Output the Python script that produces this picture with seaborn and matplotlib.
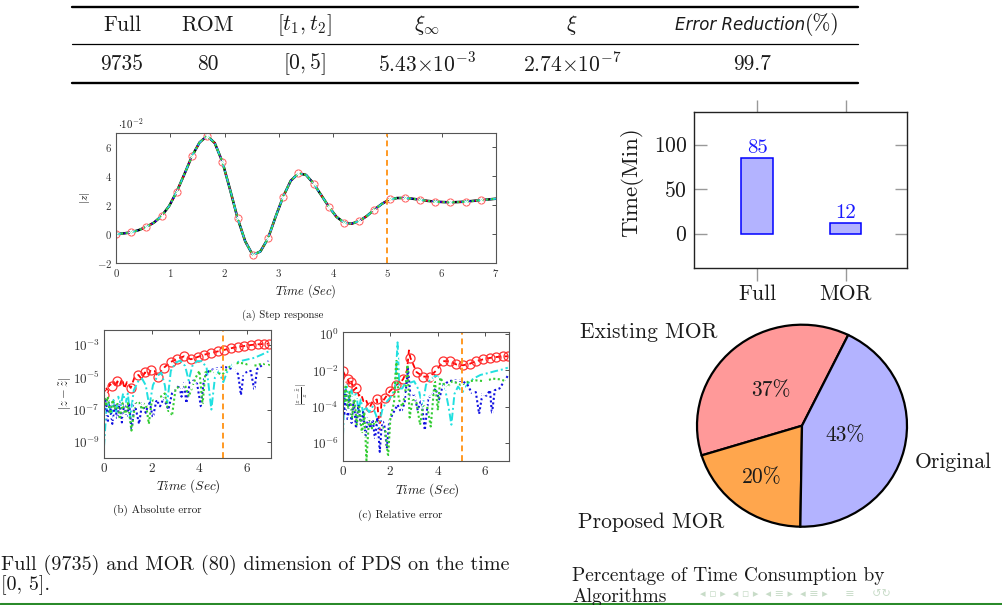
import numpy as np
import pandas as pd
import matplotlib
matplotlib.use("Agg")
import matplotlib.pyplot as plt
import seaborn as sns
from matplotlib.lines import Line2D
from matplotlib.ticker import FuncFormatter, NullLocator

# ---------------- data ----------------
table_header = ["Full", "ROM", r"$[t_1, t_2]$", r"$\xi_\infty$", r"$\xi$"]
table_row = ["9735", "80", r"$[0, 5]$", r"$5.43{\times}10^{-3}$", r"$2.74{\times}10^{-7}$", "99.7"]

step_t = [0.0, 0.14, 0.28, 0.42, 0.56, 0.70, 0.84, 0.98, 1.12, 1.26, 1.40, 1.54, 1.68, 1.82,
          1.96, 2.10, 2.24, 2.38, 2.52, 2.66, 2.80, 2.94, 3.08, 3.22, 3.36, 3.50, 3.64, 3.78,
          3.92, 4.06, 4.20, 4.34, 4.48, 4.62, 4.76, 4.90, 5.04, 5.18, 5.32, 5.46, 5.60, 5.74,
          5.88, 6.02, 6.16, 6.30, 6.44, 6.58, 6.72, 6.86, 7.00]
step_z = [0.0, 0.0005, 0.0012, 0.0028, 0.005, 0.008, 0.0125, 0.0195, 0.0295, 0.0415, 0.054,
          0.0635, 0.068, 0.063, 0.050, 0.031, 0.011, -0.005, -0.0145, -0.012, -0.003, 0.012,
          0.026, 0.037, 0.042, 0.041, 0.035, 0.027, 0.019, 0.012, 0.008, 0.0072, 0.009, 0.0125,
          0.017, 0.021, 0.024, 0.025, 0.025, 0.0245, 0.0238, 0.023, 0.0225, 0.0222, 0.022,
          0.0222, 0.0225, 0.023, 0.0235, 0.024, 0.0245]

# absolute error |z - z~|
abs_red_t = [0.00, 0.08, 0.16, 0.24, 0.32, 0.42, 0.50, 0.56, 0.66, 0.76, 0.86, 0.96, 1.12, 1.28,
             1.44, 1.58, 1.71, 1.84, 1.96, 2.12, 2.27, 2.40, 2.52, 2.80, 3.08, 3.36, 3.64, 3.92,
             4.20, 4.48, 4.76, 5.04, 5.32, 5.60, 5.88, 6.16, 6.44, 6.72, 6.90]
abs_red_v = [8e-7, 2.5e-6, 1.3e-6, 4e-6, 2.8e-6, 5e-6, 2.5e-6, 5.6e-6, 3.2e-6, 8e-6, 2e-6, 5e-6,
             2.2e-6, 1e-5, 1.4e-5, 8e-6, 2e-5, 1.3e-5, 2.8e-5, 2.5e-5, 1.1e-5, 2.5e-5, 4e-5, 9e-5,
             1.4e-4, 2e-4, 1.3e-4, 1.8e-4, 2.5e-4, 3.2e-4, 4e-4, 5e-4, 6.3e-4, 7.6e-4, 8.7e-4,
             1e-3, 1.1e-3, 1.17e-3, 1.2e-3]
abs_cyan_t = [0.00, 0.10, 0.20, 0.30, 0.40, 0.50, 0.60, 0.70, 0.80, 0.90, 1.00, 1.10, 1.25, 1.45,
              1.60, 1.75, 1.90, 2.05, 2.25, 2.40, 2.55, 2.65, 2.80, 3.00, 3.20, 3.40, 3.55, 3.70,
              3.90, 4.10, 4.30, 4.50, 4.65, 4.80, 5.00, 5.15, 5.40, 5.70, 6.00, 6.30, 6.60, 6.90]
abs_cyan_v = [5e-10, 1e-7, 3.2e-7, 3.2e-8, 4e-7, 6.3e-8, 6.3e-7, 1.6e-7, 1e-6, 2.5e-7, 1e-6,
              3.2e-8, 1.6e-6, 6.3e-6, 8e-6, 3.2e-6, 1.6e-7, 3.2e-6, 1.3e-5, 2e-5, 3.2e-6, 2.5e-7,
              2.5e-5, 8e-5, 1.1e-4, 5e-5, 6.3e-6, 5e-5, 1e-4, 1e-4, 4e-5, 1e-7, 1e-5, 2.5e-5,
              5e-6, 2e-5, 6.3e-5, 1e-4, 1.26e-4, 1.6e-4, 2.5e-4, 4e-4]
abs_blue_t = [0.00, 0.08, 0.16, 0.24, 0.35, 0.45, 0.55, 0.65, 0.75, 0.85, 0.95, 1.05, 1.16, 1.28,
              1.47, 1.60, 1.75, 1.90, 2.05, 2.20, 2.35, 2.50, 2.70, 2.85, 3.00, 3.15, 3.25, 3.36,
              3.45, 3.60, 3.76, 3.90, 4.06, 4.20, 4.41, 4.60, 4.83, 5.10, 5.30, 5.46, 5.62, 5.74,
              5.85, 5.95, 6.15, 6.30, 6.42, 6.58, 6.75, 6.90]
abs_blue_v = [5e-8, 5e-7, 1.6e-8, 3.2e-7, 1.3e-8, 2.5e-7, 2.5e-8, 2.5e-7, 1.6e-8, 2.5e-7,
              3.2e-8, 2.5e-7, 5e-9, 2.5e-7, 1.3e-8, 2.5e-7, 6.3e-8, 3.2e-7, 3.2e-8, 4e-7,
              1.6e-7, 5e-7, 1e-7, 1e-6, 1.6e-6, 3.2e-6, 6.3e-7, 4.5e-6, 2.5e-7, 5e-6,
              6.3e-6, 4e-6, 1.6e-7, 1e-5, 2.5e-5, 3.2e-5, 3.8e-5, 4.2e-5, 3.5e-5, 2.8e-5,
              1.6e-5, 8e-7, 1.6e-5, 2e-5, 2.5e-5, 1.6e-6, 3.2e-5, 5e-5, 7e-5, 1e-4]
abs_green_t = [0.00, 0.08, 0.16, 0.26, 0.36, 0.46, 0.56, 0.66, 0.78, 0.90, 1.00, 1.15, 1.30, 1.45,
               1.60, 1.75, 1.88, 2.00, 2.20, 2.38, 2.55, 2.70, 2.85, 3.00, 3.22, 3.40, 3.55, 3.71,
               3.85, 4.00, 4.13, 4.25, 4.41, 4.65, 4.97, 5.15, 5.39, 5.67, 5.90, 6.10, 6.40, 6.60,
               6.80, 6.95]
abs_green_v = [1e-6, 1.6e-7, 6.3e-7, 4e-8, 4e-7, 1e-7, 3.2e-7, 2.5e-8, 2.5e-7, 4e-8,
               2.5e-7, 5e-9, 2e-7, 3.2e-7, 1e-7, 2.5e-7, 1.3e-8, 3.2e-7, 5e-7, 6.3e-7,
               1e-6, 6.3e-8, 4e-8, 2e-6, 2.8e-6, 3.2e-6, 6.3e-7, 2.8e-6, 1e-5, 2.5e-5,
               2e-7, 2e-5, 2.5e-5, 2e-5, 1.5e-5, 3.2e-5, 6.3e-5, 8e-5, 7e-5, 5.6e-5,
               5.4e-5, 7e-5, 6.3e-5, 5.6e-5]

# relative error |(z - z~)/z|
rel_red_t = [0.00, 0.10, 0.21, 0.28, 0.35, 0.45, 0.56, 0.66, 0.76, 0.86, 0.96, 1.05, 1.13, 1.25,
             1.43, 1.55, 1.62, 1.76, 1.97, 2.10, 2.25, 2.40, 2.53, 2.70, 2.78, 2.84, 3.10, 3.38,
             3.66, 3.94, 4.22, 4.50, 4.78, 5.06, 5.34, 5.62, 5.90, 6.18, 6.46, 6.74, 6.96]
rel_red_v = [8.9e-3, 5e-3, 3.2e-3, 1.6e-3, 2.4e-3, 8e-4, 1.1e-3, 4e-4, 5e-4, 2e-4,
             2.5e-4, 1.26e-4, 9e-5, 2e-4, 2.5e-4, 5e-6, 1.6e-4, 2.8e-4, 7e-4, 1e-3,
             1.6e-3, 2e-3, 3.2e-3, 1e-2, 0.126, 5e-2, 8e-3, 4.5e-3, 4.5e-3, 1e-2,
             3.2e-2, 3.2e-2, 2.1e-2, 1.9e-2, 2.3e-2, 3.2e-2, 4e-2, 4.8e-2, 5.4e-2, 5.8e-2, 6e-2]
rel_cyan_t = [0.00, 0.06, 0.15, 0.25, 0.35, 0.45, 0.55, 0.65, 0.75, 0.85, 0.95, 1.10, 1.25, 1.40,
              1.50, 1.65, 1.80, 2.00, 2.20, 2.30, 2.38, 2.50, 2.65, 2.80, 3.00, 3.20, 3.35, 3.50,
              3.70, 3.90, 4.10, 4.30, 4.45, 4.57, 4.70, 4.85, 5.04, 5.20, 5.50, 5.80, 6.10, 6.40,
              6.70, 6.95]
rel_cyan_v = [2.5e-6, 5e-4, 1.6e-3, 2.5e-4, 1e-3, 1.6e-4, 6.3e-4, 6.3e-5, 2.5e-4, 4e-5,
              1e-4, 5e-5, 1e-4, 3.2e-5, 6.3e-6, 6.3e-5, 1.6e-4, 3.2e-4, 1e-3, 0.35,
              1e-3, 1e-3, 2.5e-3, 2e-3, 2.5e-3, 8e-4, 1e-4, 1.6e-3, 3.2e-3, 5e-3,
              4e-3, 1e-3, 1e-4, 1e-5, 5e-4, 1.26e-3, 6.3e-4, 1.6e-3, 3.5e-3, 5.6e-3,
              7e-3, 8.9e-3, 1.1e-2, 1.4e-2]
rel_blue_t = [0.00, 0.06, 0.12, 0.20, 0.28, 0.36, 0.45, 0.55, 0.65, 0.75, 0.85, 0.95, 1.05, 1.15,
              1.25, 1.35, 1.45, 1.55, 1.65, 1.75, 1.85, 1.95, 2.10, 2.30, 2.45, 2.60, 2.74, 2.85,
              3.00, 3.15, 3.30, 3.45, 3.60, 3.75, 3.90, 4.05, 4.20, 4.35, 4.50, 4.80, 5.05, 5.25,
              5.45, 5.60, 5.74, 5.88, 6.05, 6.20, 6.28, 6.40, 6.60, 6.80, 6.95]
rel_blue_v = [1.6e-3, 3.2e-5, 1e-3, 1.6e-5, 4e-4, 1.26e-5, 2.5e-4, 6.3e-6, 1.26e-4, 1e-5,
              5e-5, 2.5e-6, 2.5e-5, 6.3e-6, 2e-5, 1.6e-6, 2.5e-5, 3.2e-7, 2e-5, 8e-6,
              5e-7, 1.6e-5, 4e-5, 1.26e-4, 5e-5, 1.6e-4, 1.26e-2, 3.2e-4, 5e-4, 6.3e-5,
              2.5e-4, 5e-6, 3.2e-4, 4e-4, 1e-3, 2.5e-4, 1.26e-3, 2e-3, 2.6e-3, 2.8e-3,
              2.5e-3, 1.6e-3, 5e-4, 6.3e-4, 4e-5, 5e-4, 4e-4, 8e-4, 4e-5, 8e-4,
              1e-3, 2.5e-3, 5e-3]
rel_green_t = [0.00, 0.06, 0.12, 0.20, 0.28, 0.38, 0.48, 0.58, 0.68, 0.80, 0.90, 0.99, 1.10, 1.22,
               1.35, 1.50, 1.65, 1.80, 1.90, 2.00, 2.15, 2.25, 2.35, 2.50, 2.62, 2.72, 2.81, 2.95,
               3.10, 3.25, 3.40, 3.55, 3.70, 3.87, 4.00, 4.10, 4.36, 4.60, 4.80, 5.05, 5.30, 5.60,
               6.00, 6.30, 6.60, 6.90]
rel_green_v = [2.5e-3, 1.6e-4, 1.26e-3, 6.3e-5, 6.3e-4, 2.5e-5, 3.2e-4, 1e-5, 1.26e-4, 3.2e-6,
               5e-5, 1.1e-7, 2.5e-5, 6.3e-6, 1.6e-5, 1e-5, 8e-6, 4e-6, 1.6e-7, 2.5e-5,
               1.6e-4, 5e-2, 2.5e-4, 1e-4, 5e-4, 2e-2, 2.5e-5, 3.2e-4, 1.6e-4, 1e-5,
               1.6e-4, 1e-4, 8e-6, 3.2e-3, 6.3e-5, 4e-3, 1e-3, 2.5e-3, 2e-3, 1.4e-3,
               2.5e-3, 2.8e-3, 2.5e-3, 3.5e-3, 3.2e-3, 2.5e-3]

bar_cats = ["Full", "MOR"]
bar_vals = [85, 12]

pie_labels = ["Existing MOR", "Proposed MOR", "Original"]
pie_vals = [37, 20, 43]
pie_colors = ["#ff9999", "#ffa64d", "#b3b3ff"]

# ---------------- style ----------------
sns.set_theme(style="white")
plt.rcParams['font.family'] = ['cmr10', 'DejaVu Serif']
plt.rcParams['mathtext.fontset'] = 'cm'
plt.rcParams['axes.unicode_minus'] = False
plt.rcParams['axes.formatter.use_mathtext'] = True

W, H = 1002, 605
fig = plt.figure(figsize=(W / 100, H / 100), dpi=100)
fig.patch.set_facecolor('white')


def box(x0, y0, x1, y1):
    return [x0 / W, 1 - y1 / H, (x1 - x0) / W, (y1 - y0) / H]


def ft(x, y, s, **kw):
    kw.setdefault('ha', 'center')
    kw.setdefault('va', 'center')
    kw.setdefault('color', '#1a1a1a')
    fig.text(x / W, 1 - y / H, s, **kw)


def hline(x0, x1, y, lw, color='black'):
    fig.add_artist(Line2D([x0 / W, x1 / W], [1 - y / H, 1 - y / H], lw=lw, color=color))


def frame(ax, color='#555555', lw=0.8):
    for s in ax.spines.values():
        s.set_visible(True)
        s.set_color(color)
        s.set_linewidth(lw)


# ---------------- table ----------------
hline(72, 858, 7, 1.7)
hline(72, 858, 44, 0.9)
hline(72, 858, 83, 1.7)
col_x = [122, 208, 304, 427, 572]
for x, s in zip(col_x, table_header):
    ft(x, 25, s, size=15.5)
ft(805, 25, "Error Reduction", family='DejaVu Sans', style='italic', size=12, ha='right')
ft(805, 25, "(%)", size=15.5, ha='left')
for x, s in zip(col_x + [752], table_row):
    ft(x, 64, s, size=15.5)

# ---------------- (a) step response ----------------
ax1 = fig.add_axes(box(116, 133, 496, 263))
sns.lineplot(x=step_t, y=step_z, ax=ax1, color='black', linewidth=1.8, estimator=None, sort=False)
sns.lineplot(x=step_t, y=step_z, ax=ax1, color='red', linestyle=(0, (3, 2)), linewidth=1.2,
             marker='o', markersize=5, markerfacecolor='none', markeredgecolor='#ff7070',
             markeredgewidth=0.9, markevery=slice(0, 50, 2), estimator=None, sort=False)
sns.lineplot(x=step_t, y=step_z, ax=ax1, color='blue', linestyle=(0, (1, 1.5)), linewidth=1.2,
             marker='+', markersize=4.5, markevery=slice(0, 50, 2), estimator=None, sort=False)
sns.lineplot(x=step_t, y=step_z, ax=ax1, color='#22dddd', linestyle=(0, (4, 1.5, 1, 1.5)),
             linewidth=1.3, estimator=None, sort=False)
sns.lineplot(x=step_t, y=step_z, ax=ax1, color='#33cc33', linestyle=(0, (1, 1.5)), linewidth=1.4,
             marker='x', markersize=3.5, markevery=slice(0, 50, 2), estimator=None, sort=False)
ax1.axvline(5, color='#ff9922', linestyle=(0, (3, 2)), linewidth=1.4)
ax1.set_xlim(0, 7)
ax1.set_ylim(-0.02, 0.07)
ax1.set_xticks(range(8))
ax1.set_yticks([-0.02, 0.0, 0.02, 0.04, 0.06])
ax1.yaxis.set_major_formatter(FuncFormatter(lambda v, _: f"${round(v * 100):d}$"))
ax1.xaxis.set_major_formatter(FuncFormatter(lambda v, _: f"${round(v):d}$"))
ax1.tick_params(direction='in', length=3, width=0.6, top=True, right=True, labelsize=7.8,
                pad=3, colors='#333333')
frame(ax1)
ax1.set_xlabel("")
ax1.set_ylabel("")
ft(131, 124, r"$\cdot10^{-2}$", size=7.8)
ft(85, 198, r"$|z|$", size=8, rotation=90)
ft(306, 291, r"$\mathit{Time}\ (\mathit{Sec})$", size=9)
ft(283, 315, "(a) Step response", size=7.8)

# ---------------- error plots ----------------
def err_plot(ax, red, cyan, blue, green, red_marks):
    sns.lineplot(x=red[0], y=red[1], ax=ax, color='red', linestyle=(0, (3, 2)), linewidth=1.3,
                 marker='o', markersize=6.5, markerfacecolor='none', markeredgecolor='#ff3030',
                 markeredgewidth=0.9, markevery=red_marks, estimator=None, sort=False)
    sns.lineplot(x=cyan[0], y=cyan[1], ax=ax, color='#22e0e0', linestyle=(0, (4, 1.5, 1, 1.5)),
                 linewidth=1.4, estimator=None, sort=False)
    sns.lineplot(x=blue[0], y=blue[1], ax=ax, color='#1010e0', linestyle=(0, (1, 1.2)),
                 linewidth=1.5, marker='+', markersize=6, markeredgewidth=1.0, markevery=3,
                 estimator=None, sort=False)
    sns.lineplot(x=green[0], y=green[1], ax=ax, color='#33cc33', linestyle=(0, (1, 1.2)),
                 linewidth=1.5, marker='x', markersize=4.5, markeredgewidth=1.0, markevery=3,
                 estimator=None, sort=False)
    ax.axvline(5, color='#ff9922', linestyle=(0, (3, 2)), linewidth=1.4)
    ax.set_yscale('log')
    ax.set_xlim(0, 7)
    ax.set_xticks([0, 2, 4, 6])
    ax.xaxis.set_major_formatter(FuncFormatter(lambda v, _: f"${round(v):d}$"))
    ax.yaxis.set_minor_locator(NullLocator())
    ax.tick_params(direction='in', length=3, width=0.6, top=True, right=True, labelsize=9.5,
                   pad=3, colors='#333333')
    ax.set_xlabel("")
    ax.set_ylabel("")
    frame(ax)


ax2 = fig.add_axes(box(104, 330, 271, 458))
err_plot(ax2, (abs_red_t, abs_red_v), (abs_cyan_t, abs_cyan_v), (abs_blue_t, abs_blue_v),
         (abs_green_t, abs_green_v), [0, 4, 7, 12, 14, 16, 18, 20] + list(range(22, 39)))
ax2.set_ylim(1e-10, 8.5e-3)
ax2.set_yticks([1e-9, 1e-7, 1e-5, 1e-3])
ax2.yaxis.set_minor_locator(NullLocator())
ft(66, 393, r"$|z-\tilde{z}|$", size=9, rotation=90)
ft(188, 486, r"$\mathit{Time}\ (\mathit{Sec})$", size=9.5)
ft(157, 510, "(b) Absolute error", size=8)

ax3 = fig.add_axes(box(343, 332, 509, 461))
err_plot(ax3, (rel_red_t, rel_red_v), (rel_cyan_t, rel_cyan_v), (rel_blue_t, rel_blue_v),
         (rel_green_t, rel_green_v), [0, 2, 4, 6, 12, 14, 17, 18, 20, 22, 25] + list(range(26, 41)))
ax3.set_ylim(1e-7, 1.3)
ax3.set_yticks([1e-6, 1e-4, 1e-2, 1])
ax3.yaxis.set_minor_locator(NullLocator())
ft(302, 395, r"$|\frac{z-\tilde{z}}{z}|$", size=7.5, rotation=90)
ft(427, 490, r"$\mathit{Time}\ (\mathit{Sec})$", size=9.5)
ft(400, 515, "(c) Relative error", size=8)

# ---------------- bar chart ----------------
ax4 = fig.add_axes(box(694, 112, 907, 268))
sns.barplot(x=bar_cats, y=bar_vals, ax=ax4, color='#b3b3ff', edgecolor='#0000ff', linewidth=1.1,
            width=0.35, saturation=1)
ax4.bar_label(ax4.containers[0], color='#1a1aff', fontsize=15, padding=1)
ax4.set_xlim(-0.71, 1.69)
ax4.set_ylim(-38.5, 136.7)
ax4.set_yticks([0, 50, 100])
ax4.tick_params(axis='y', direction='in', length=9, width=1, color='#999999', left=True,
                right=True, labelsize=15.5, pad=5, labelcolor='#1a1a1a')
ax4.tick_params(axis='x', direction='out', length=9, width=1, color='#999999', top=True,
                bottom=True, labelsize=15.5, pad=3, labelcolor='#1a1a1a')
frame(ax4, color='#222222', lw=1.0)
ax4.set_xlabel("")
ax4.set_ylabel("Time(Min)", fontsize=16.5, color='#1a1a1a')
ax4.yaxis.set_label_coords((643 - 694) / 213, 0.55)

# ---------------- pie chart ----------------
cx, cy, rx, ry = 802, 425.7, 105, 101
lim = 1.03
ax5 = fig.add_axes(box(cx - rx * lim, cy - ry * lim, cx + rx * lim, cy + ry * lim))
wedges, _ = ax5.pie(pie_vals, colors=pie_colors, startangle=63.9, counterclock=True,
                    wedgeprops=dict(edgecolor='black', linewidth=1.6))
ax5.set_aspect('auto')
ax5.set_xlim(-lim, lim)
ax5.set_ylim(-lim, lim)
for w, v, r in zip(wedges, pie_vals, [0.46, 0.64, 0.42]):
    a = np.deg2rad((w.theta1 + w.theta2) / 2)
    ax5.text(r * np.cos(a), r * np.sin(a), f"{v}%", ha='center', va='center', fontsize=15.5,
             color='#1a1a1a')
ft(580, 332, pie_labels[0], size=15.5, ha='left')
ft(578, 522, pie_labels[1], size=15.5, ha='left')
ft(915, 462, pie_labels[2], size=15.5, ha='left')

# ---------------- slide captions ----------------
ft(1, 565, "Full (9735) and MOR (80) dimension of PDS on the time", size=14.5, ha='left')
ft(1, 585, "[0, 5].", size=14.5, ha='left')
ft(572, 576, "Percentage of Time Consumption by", size=14, ha='left')
ft(572, 597, "Algorithms", size=14, ha='left')
ft(700, 594, "\u25c2 \u25ab \u25b8  \u25c2 \u25ab \u25b8  \u25c2 \u2261 \u25b8  \u25c2 \u2261 \u25b8     \u2261     \u21ba\u21bb",
   family='DejaVu Sans', size=8, ha='left', color='#c8dcc8')
hline(0, 1002, 603.5, 2.2, color='#2a8a2a')

fig.savefig("out.png", dpi=100, facecolor='white')
